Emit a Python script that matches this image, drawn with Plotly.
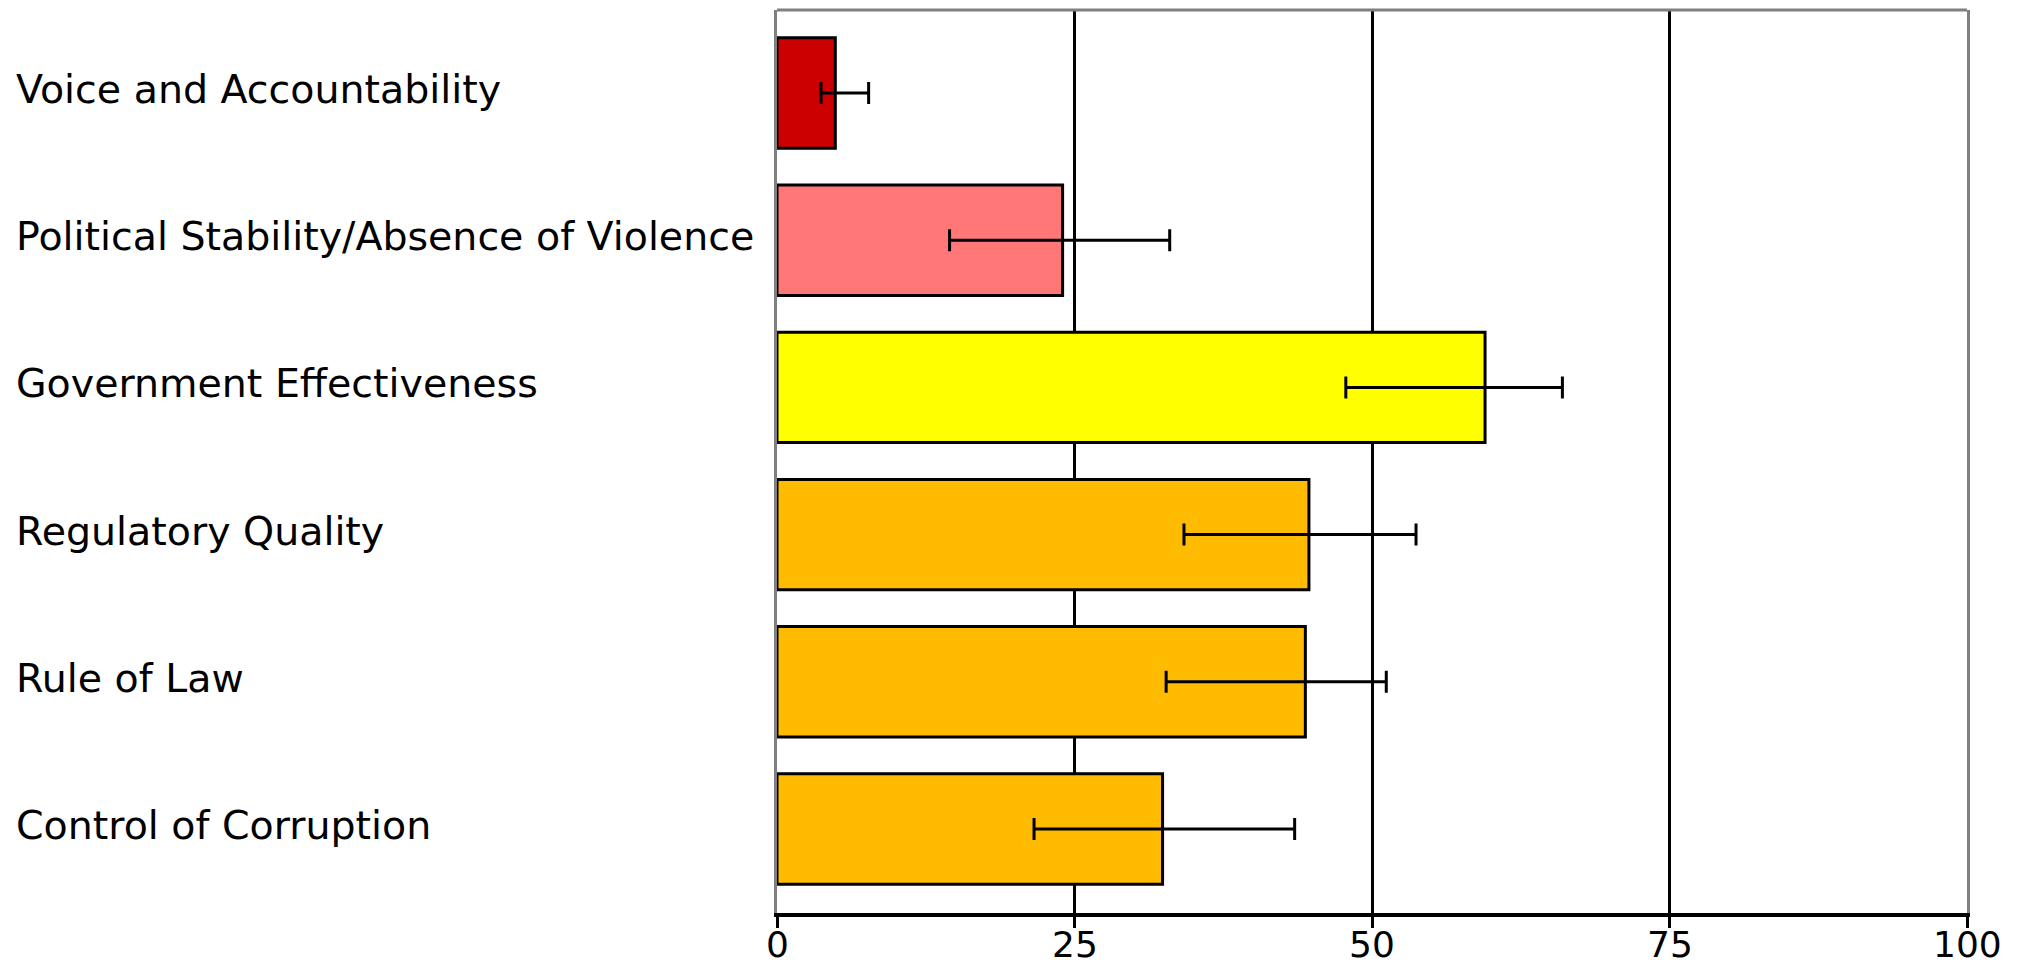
import plotly.graph_objects as go

categories = [
    "Voice and Accountability",
    "Political Stability/Absence of Violence",
    "Government Effectiveness",
    "Regulatory Quality",
    "Rule of Law",
    "Control of Corruption",
]
values = [4.9, 24.0, 59.5, 44.7, 44.4, 32.4]
lower = [3.7, 14.5, 47.8, 34.2, 32.7, 21.6]
upper = [7.7, 33.0, 66.0, 53.7, 51.2, 43.5]
colors = ["#CC0000", "#FF7777", "#FFFF00", "#FFBB00", "#FFBB00", "#FFBB00"]
x_ticks = [0, 25, 50, 75, 100]

W, H = 2017, 965
OFF = 8  # page body margin
L, T = 777 - OFF, 10 - OFF
R = W - (1967 - OFF)
B = H - (913 - OFF)
plot_w = W - L - R
plot_h = H - T - B

err_plus = [u - v for u, v in zip(upper, values)]
err_minus = [v - lo for v, lo in zip(values, lower)]

fig = go.Figure()
fig.add_trace(go.Bar(
    y=categories,
    x=values,
    orientation="h",
    width=0.75,
    marker=dict(color=colors, line=dict(color="black", width=3)),
    error_x=dict(type="data", symmetric=False, array=err_plus, arrayminus=err_minus,
                 color="black", thickness=3, width=11),
    hoverinfo="skip",
))

# category labels, left aligned
for c in categories:
    fig.add_annotation(
        x=-(L - 6) / plot_w, xref="paper", xanchor="left",
        y=c, yref="y", yanchor="middle", yshift=4,
        text=c, showarrow=False,
        font=dict(family="DejaVu Sans", size=39.5, color="black"),
    )

# x tick labels
label_center_fig = 944 - OFF
for t in x_ticks:
    fig.add_annotation(
        x=t, xref="x", xanchor="center",
        y=-(label_center_fig - (H - B)) / plot_h,
        yref="paper", yanchor="middle",
        text=str(t), showarrow=False, borderpad=0,
        font=dict(family="DejaVu Sans", size=36, color="black"),
    )

fig.add_shape(type="line", xref="paper", yref="paper", x0=0, x1=1, y0=1, y1=1,
              line=dict(color="#808080", width=3))

fig.update_layout(
    width=W, height=H,
    margin=dict(l=L, r=R, t=T, b=B, pad=0),
    paper_bgcolor="white", plot_bgcolor="white",
    showlegend=False,
    font=dict(family="DejaVu Sans", color="black"),
    xaxis=dict(
        range=[0, 100], tickvals=x_ticks, showticklabels=False,
        showgrid=True, gridcolor="black", gridwidth=3,
        showline=True, linecolor="black", linewidth=4,
        ticks="outside", ticklen=11, tickwidth=3, tickcolor="black",
        zeroline=False, fixedrange=True,
    ),
    yaxis=dict(
        type="category", categoryorder="array", categoryarray=categories,
        range=[5.571, -0.564],
        showticklabels=False, ticks="",
        showgrid=False, zeroline=False,
        showline=True, linecolor="#808080", linewidth=3, mirror=True,
        layer="below traces", fixedrange=True,
    ),
)

fig.write_html("out.html")
